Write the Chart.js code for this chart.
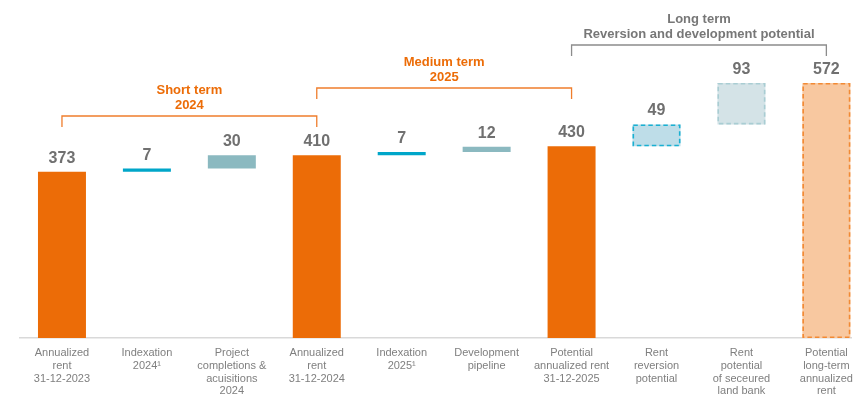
<!DOCTYPE html>
<html>
<head>
<meta charset="utf-8">
<script src="https://cdn.jsdelivr.net/npm/chart.js@4.4.1/dist/chart.umd.min.js"></script>
<style>
  body { margin: 0; background: #fff; }
  #wrap { width: 863px; height: 396px; position: relative; }
</style>
</head>
<body>
<div id="wrap"><canvas id="rentChart"></canvas></div>
<script>
// Categorias del puente de renta anualizada
const categorias = [
    ['Annualized', 'rent', '31-12-2023'],
    ['Indexation', '2024¹'],
    ['Project', 'completions &', 'acuisitions', '2024'],
    ['Annualized', 'rent', '31-12-2024'],
    ['Indexation', '2025¹'],
    ['Development', 'pipeline'],
    ['Potential', 'annualized rent', '31-12-2025'],
    ['Rent', 'reversion', 'potential'],
    ['Rent', 'potential', 'of seceured', 'land bank'],
    ['Potential', 'long-term', 'annualized', 'rent']
];
const valores = [373, 7, 30, 410, 7, 12, 430, 49, 93, 572];
// 'total' arranca en cero, 'paso' se apila sobre el acumulado
const tipos = ['total', 'paso', 'paso', 'total', 'paso', 'paso', 'total', 'paso', 'paso', 'total'];
const rellenos = ['#ec6c07', '#00a6c9', '#8bb9c0', '#ec6c07', '#00a6c9', '#8bb9c0', '#ec6c07', '#bedde8', '#d4e3e7', '#f8c8a0'];
const bordesPunteados = [null, null, null, null, null, null, null, '#19b0d2', '#a9cdd3', '#f28a34'];

const tramos = [[0, 3], [3, 6], [6, 9]];
const tramoTitulos = [
    ['Short term', '2024'],
    ['Medium term', '2025'],
    ['Long term', 'Reversion and development potential']
];

// Barras flotantes [inicio, fin]
let acumulado = 0;
const barras = valores.map((v, i) => {
    if (tipos[i] === 'total') {
        acumulado = v;
        return { x: i, y: [0, v] };
    }
    const ini = acumulado;
    acumulado += v;
    return { x: i, y: [ini, acumulado] };
});

const FUENTE = '"Liberation Sans", Arial, Helvetica, sans-serif';

// Etiquetas de valor y bordes punteados
const pluginBarras = {
    id: 'pluginBarras',
    afterDatasetsDraw(chart) {
        const ctx = chart.ctx;
        const meta = chart.getDatasetMeta(0);
        meta.data.forEach((bar, i) => {
            const left = bar.x - bar.width / 2;
            const top = Math.min(bar.y, bar.base);
            const h = Math.abs(bar.base - bar.y);
            if (bordesPunteados[i]) {
                ctx.save();
                ctx.strokeStyle = bordesPunteados[i];
                ctx.lineWidth = 1.6;
                ctx.setLineDash([4.5, 3]);
                ctx.strokeRect(left + 0.8, top + 0.8, bar.width - 1.6, h - 1.6);
                ctx.restore();
            }
            ctx.save();
            ctx.fillStyle = '#707070';
            ctx.font = 'bold 16px ' + FUENTE;
            ctx.textAlign = 'center';
            ctx.textBaseline = 'alphabetic';
            ctx.fillText(String(valores[i]), bar.x, top - 9);
            ctx.restore();
        });
    }
};

// Llaves de horizonte temporal
const pluginLlaves = {
    id: 'pluginLlaves',
    afterDraw(chart) {
        const ctx = chart.ctx;
        const xs = chart.scales.x;
        const estilos = [
            { y: 116, color: '#ef7d2c', texto: '#ec6c07' },
            { y: 88, color: '#ef7d2c', texto: '#ec6c07' },
            { y: 45, color: '#8c8c8c', texto: '#777777' }
        ];
        tramos.forEach((t, k) => {
            const e = estilos[k];
            const x1 = xs.getPixelForValue(t[0]);
            const x2 = xs.getPixelForValue(t[1]);
            ctx.save();
            ctx.strokeStyle = e.color;
            ctx.lineWidth = 1.3;
            ctx.beginPath();
            ctx.moveTo(x1, e.y + 11);
            ctx.lineTo(x1, e.y);
            ctx.lineTo(x2, e.y);
            ctx.lineTo(x2, e.y + 11);
            ctx.stroke();
            ctx.fillStyle = e.texto;
            ctx.font = 'bold 13px ' + FUENTE;
            ctx.textAlign = 'center';
            ctx.textBaseline = 'middle';
            const cx = (x1 + x2) / 2;
            ctx.fillText(tramoTitulos[k][0], cx, e.y - 26);
            ctx.fillText(tramoTitulos[k][1], cx, e.y - 11);
            ctx.restore();
        });
    }
};

new Chart(document.getElementById('rentChart'), {
    type: 'bar',
    data: {
        datasets: [{
            data: barras,
            backgroundColor: rellenos,
            borderWidth: 0,
            categoryPercentage: 1,
            barPercentage: 0.565
        }]
    },
    options: {
        responsive: true,
        maintainAspectRatio: false,
        animation: false,
        layout: { padding: { left: 19.5, right: 12, top: 0, bottom: 0 } },
        plugins: {
            legend: { display: false },
            tooltip: { enabled: false }
        },
        scales: {
            x: {
                type: 'linear',
                offset: false,
                min: -0.5,
                max: 9.29,
                grid: { display: false, drawTicks: false },
                border: { display: true, color: '#d9d9d9', width: 1.5 },
                afterBuildTicks(scale) {
                    scale.ticks = categorias.map((c, i) => ({ value: i }));
                },
                afterFit(scale) {
                    scale.height = 58;
                },
                ticks: {
                    autoSkip: false,
                    maxRotation: 0,
                    padding: 9,
                    color: '#7f7f7f',
                    font: { family: FUENTE, size: 11, lineHeight: 1.15 },
                    callback: (v) => categorias[v]
                }
            },
            y: {
                display: false,
                min: 0,
                max: 758
            }
        }
    },
    plugins: [pluginBarras, pluginLlaves]
});
</script>
</body>
</html>
